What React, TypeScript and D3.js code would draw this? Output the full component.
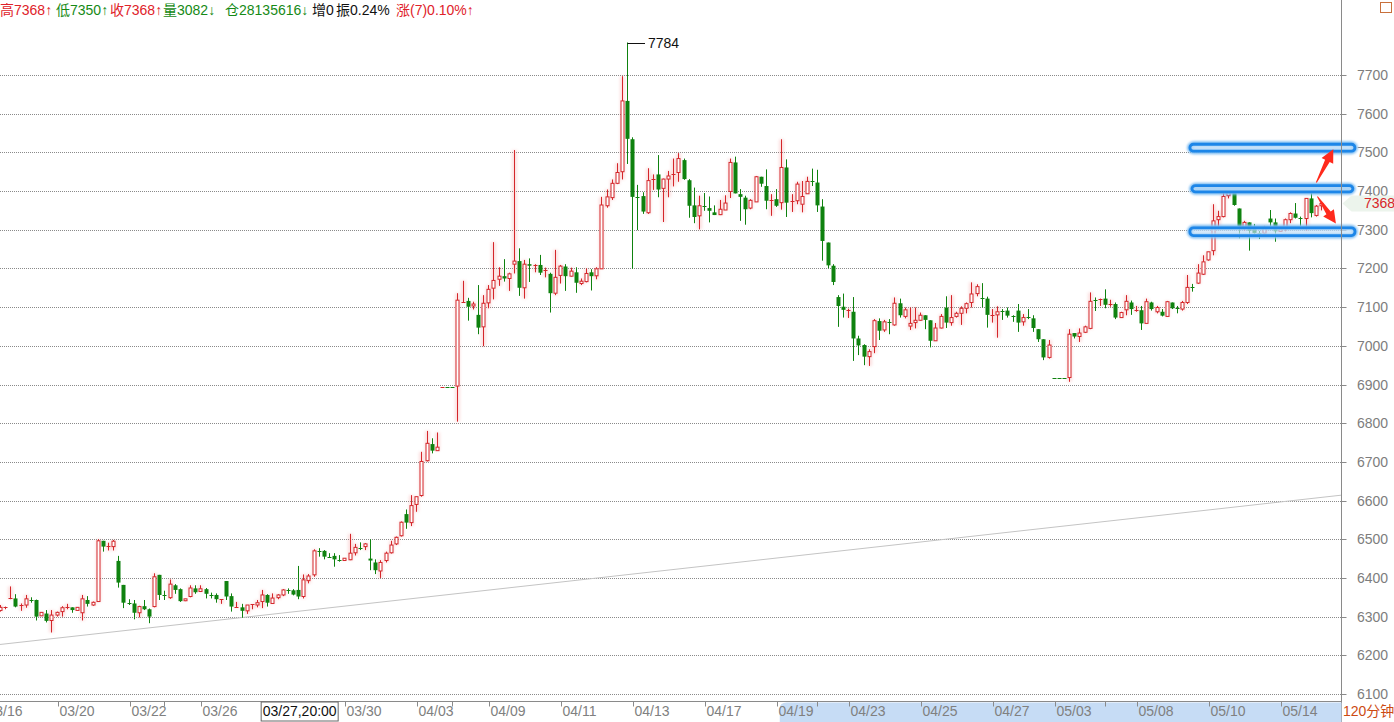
import React from "react";
import * as d3 from "d3";

// ---------- DATA ----------
const opens = [6316,6321,6345,6347,6326,6330,6344,6343,6302,6308,6290,6304,6313,6323,6324,6316,6310,6343,6330,6339,6496,6481,6481,6444,6382,6336,6334,6310,6327,6319,6326,6408,6356,6349,6381,6371,6341,6352,6373,6365,6371,6356,6356,6344,6392,6353,6323,6324,6315,6331,6330,6339,6356,6334,6349,6356,6368,6368,6369,6352,6393,6408,6470,6470,6455,6457,6447,6445,6447,6465,6477,6481,6450,6440,6418,6445,6465,6488,6509,6565,6543,6590,6613,6703,6746,6729,6893,6893,6893,6896,7113,7116,7103,7080,7049,7111,7149,7172,7180,7174,7211,7219,7150,7211,7207,7209,7194,7186,7136,7182,7205,7180,7190,7161,7166,7190,7181,7199,7362,7383,7420,7450,7633,7534,7385,7387,7344,7429,7443,7407,7431,7443,7448,7480,7428,7363,7336,7361,7356,7345,7339,7351,7399,7474,7392,7383,7356,7372,7437,7413,7375,7379,7370,7461,7372,7375,7366,7393,7426,7422,7360,7267,7207,7126,7101,7090,7088,7019,7002,6972,6998,7064,7041,7061,7054,7110,7076,7051,7060,7066,7079,7066,7013,7046,7099,7060,7076,7084,7097,7112,7135,7123,7122,7079,7080,7091,7091,7077,7091,7062,7074,7071,7043,7017,6970,6918,6918,6918,6918,7033,7024,7035,7045,7118,7119,7122,7107,7108,7073,7093,7112,7091,7092,7058,7112,7088,7088,7076,7112,7097,7095,7112,7152,7162,7185,7222,7246,7326,7334,7388,7398,7355,7304,7319,7302,7292,7291,7329,7319,7296,7302,7326,7342,7331,7329,7381,7337,7362];
const highs = [6330,6326,6378,6358,6334,6356,6350,6344,6311,6317,6317,6313,6327,6333,6324,6324,6356,6353,6339,6500,6496,6491,6498,6457,6382,6345,6343,6328,6343,6321,6412,6408,6367,6396,6384,6373,6346,6381,6381,6381,6374,6362,6360,6345,6392,6360,6338,6333,6330,6332,6343,6369,6358,6360,6358,6371,6373,6371,6431,6409,6410,6474,6477,6472,6464,6464,6459,6451,6514,6488,6492,6490,6500,6448,6446,6468,6496,6507,6546,6577,6614,6610,6726,6780,6761,6776,6893,6893,6893,7136,7168,7124,7114,7157,7131,7157,7268,7203,7224,7189,7506,7252,7222,7226,7211,7235,7202,7189,7248,7209,7211,7202,7203,7174,7200,7198,7203,7385,7404,7430,7472,7697,7784,7539,7416,7397,7459,7443,7493,7432,7452,7484,7498,7484,7431,7409,7388,7395,7386,7363,7377,7389,7484,7489,7405,7388,7379,7439,7437,7456,7392,7405,7534,7482,7392,7424,7426,7437,7458,7455,7379,7267,7211,7131,7135,7096,7126,7026,7004,6991,7069,7071,7067,7069,7125,7122,7099,7099,7099,7086,7079,7066,7059,7082,7128,7131,7088,7102,7112,7164,7159,7162,7127,7095,7102,7095,7099,7079,7108,7082,7095,7079,7043,7017,7015,6918,6918,6918,7043,7033,7045,7052,7138,7125,7122,7146,7119,7112,7088,7131,7117,7103,7103,7122,7114,7103,7095,7116,7112,7103,7116,7183,7160,7211,7234,7243,7366,7349,7399,7401,7401,7355,7323,7319,7315,7297,7310,7351,7329,7302,7329,7345,7369,7334,7381,7398,7364,7368];
const lows = [6313,6319,6345,6324,6315,6323,6336,6290,6302,6285,6259,6300,6300,6319,6310,6316,6290,6326,6328,6338,6468,6471,6471,6375,6322,6330,6293,6298,6317,6283,6324,6343,6343,6346,6359,6338,6340,6350,6359,6364,6347,6347,6336,6333,6343,6313,6323,6297,6307,6319,6324,6322,6326,6334,6345,6353,6359,6355,6345,6347,6386,6403,6455,6448,6452,6429,6442,6445,6446,6458,6472,6472,6420,6410,6400,6440,6463,6485,6507,6527,6534,6571,6610,6701,6722,6729,6893,6893,6893,6804,7113,7065,7094,7030,6999,7097,7120,7155,7166,7142,7187,7129,7122,7165,7190,7183,7177,7086,7131,7161,7142,7179,7137,7157,7164,7143,7172,7199,7357,7377,7418,7430,7470,7199,7299,7341,7341,7403,7384,7320,7384,7412,7424,7429,7331,7317,7301,7349,7319,7338,7338,7351,7382,7394,7323,7313,7353,7372,7411,7353,7336,7359,7352,7333,7346,7366,7345,7393,7413,7346,7220,7200,7157,7049,7073,7072,6961,6976,6950,6948,6981,7015,7036,7030,7052,7073,7071,7041,7045,7065,7043,6996,7013,7045,7046,7052,7073,7054,7084,7099,7128,7099,7047,7060,7021,7067,7073,7062,7036,7052,7069,7036,7010,6963,6967,6918,6918,6918,6907,7019,7010,7033,7043,7090,7103,7097,7101,7069,7072,7079,7080,7088,7041,7058,7091,7084,7076,7076,7095,7084,7091,7108,7140,7160,7183,7220,7234,7302,7332,7381,7362,7278,7297,7246,7289,7276,7286,7310,7269,7296,7296,7317,7329,7310,7297,7332,7334,7350];
const closes = [6324,6324,6347,6326,6329,6346,6343,6300,6311,6289,6304,6311,6323,6324,6317,6324,6346,6333,6337,6496,6481,6483,6495,6388,6336,6334,6310,6326,6319,6300,6403,6356,6354,6384,6369,6340,6346,6374,6363,6372,6359,6353,6345,6345,6352,6326,6324,6315,6330,6332,6336,6356,6336,6348,6356,6369,6367,6357,6352,6395,6405,6470,6468,6455,6454,6448,6446,6451,6464,6479,6476,6488,6445,6420,6440,6464,6485,6505,6544,6543,6587,6610,6701,6748,6729,6738,6893,6893,6893,7118,7114,7101,7108,7047,7110,7146,7169,7180,7174,7186,7219,7150,7211,7207,7209,7189,7196,7136,7177,7206,7180,7193,7163,7167,7187,7180,7199,7364,7385,7420,7448,7633,7535,7385,7382,7347,7427,7430,7404,7431,7439,7445,7484,7431,7362,7333,7362,7359,7349,7338,7353,7369,7474,7394,7385,7353,7376,7437,7419,7375,7377,7362,7461,7370,7374,7418,7386,7425,7424,7363,7271,7208,7165,7103,7093,7092,7019,7001,6972,6985,7065,7039,7062,7060,7110,7079,7093,7058,7066,7079,7067,7013,7046,7076,7060,7073,7084,7097,7109,7134,7153,7122,7080,7080,7088,7089,7078,7075,7060,7073,7073,7046,7017,6970,7002,6918,6918,6918,7030,7024,7033,7049,7115,7117,7120,7106,7108,7073,7086,7115,7095,7093,7058,7114,7095,7099,7078,7114,7097,7096,7112,7151,7150,7188,7217,7243,7323,7334,7386,7398,7364,7309,7319,7297,7291,7291,7306,7319,7296,7302,7326,7342,7331,7329,7381,7343,7361,7368];

const priceTicks = [6100,6200,6300,6400,6500,6600,6700,6800,6900,7000,7100,7200,7300,7400,7500,7600,7700];
const dateTickIdx = [-3,11,25,39,67,81,95,109,123,137,151,165,179,193,205,221,235,249];
const dateTickLabels = ["03/16","03/20","03/22","03/26","03/30","04/03","04/09","04/11","04/13","04/17","04/19","04/23","04/25","04/27","05/03","05/08","05/10","05/14"];
const minorTickIdx = [32,88,159,215];
const cursorLabel = "03/27,20:00";
const cursorIdx = 58.3;
const selectionStartIdx = 151.7;
const peakIdx = 122;
const peakValue = 7784;
const lastPrice = 7368;
const trendLine = [{ i: 0, v: 6228 }, { i: 261, v: 6614 }];
const boxes = [
  { i0: 231.5, i1: 263.6, top: 7521, bottom: 7503 },
  { i0: 231.9, i1: 263.2, top: 7414, bottom: 7398 },
  { i0: 231.5, i1: 263.6, top: 7305, bottom: 7285 },
];
const arrows = [
  { fromI: 256.1, fromV: 7422, toI: 259.4, toV: 7508 },
  { fromI: 256.3, fromV: 7386, toI: 259.9, toV: 7316 },
];
const headerParts = [
  { x: 0, t: "高7368↑", c: "red" },
  { x: 56, t: "低7350↑", c: "green" },
  { x: 110, t: "收7368↑", c: "red" },
  { x: 163, t: "量3082↓", c: "green" },
  { x: 225, t: "仓28135616↓", c: "green" },
  { x: 312, t: "增0", c: "black" },
  { x: 336, t: "振0.24%", c: "black" },
  { x: 396, t: "涨(7)0.10%↑", c: "red" },
];

// ---------- STYLE ----------
const W = 1394, H = 722;
const RED = "#d4262a", GREEN = "#0f820f";
const HDR: Record<string, string> = { red: "#e0222a", green: "#168a16", black: "#111" };
const FONT = "'Liberation Sans', Arial, 'Noto Sans CJK SC', sans-serif";
const axisX = 1341.5;
const plotBottom = 701.5;

export default function App() {
  const x = d3.scaleLinear().domain([0, 257]).range([0, 1321]);
  const y = d3.scaleLinear().domain([6100, 7700]).range([694, 75]);
  const candles = opens.map((o, i) => ({ i, o, h: highs[i], l: lows[i], c: closes[i] }));

  const colorOf = (d: any) => {
    if (d.c > d.o) return "red";
    if (d.c < d.o) return "green";
    const prev = d.i > 0 ? closes[d.i - 1] : d.c;
    return d.c > prev ? "red" : "green";
  };

  const arrowPath = (a: any) => {
    const x0 = x(a.fromI), y0 = y(a.fromV), x1 = x(a.toI), y1 = y(a.toV);
    const dx = x1 - x0, dy = y1 - y0;
    const len = Math.hypot(dx, dy);
    const ux = dx / len, uy = dy / len;
    const px = -uy, py = ux;
    const headL = 13, headW = 6.5, shaftW = 2.6;
    const bx = x1 - ux * headL, by = y1 - uy * headL;
    const pts = [
      [x0 + px * 0.5, y0 + py * 0.5],
      [bx + px * shaftW, by + py * shaftW],
      [bx + px * headW, by + py * headW],
      [x1, y1],
      [bx - px * headW, by - py * headW],
      [bx - px * shaftW, by - py * shaftW],
      [x0 - px * 0.5, y0 - py * 0.5],
    ];
    return "M" + pts.map((p) => p[0].toFixed(1) + "," + p[1].toFixed(1)).join("L") + "Z";
  };

  const px = (v: number) => Math.round(v) + 0.5;

  return (
    <svg
      width={W}
      height={H}
      style={{ position: "absolute", left: 0, top: 0, background: "#fff" }}
      fontFamily={FONT}
    >
      <defs>
        <filter id="glow" x="-50%" y="-50%" width="200%" height="200%">
          <feGaussianBlur stdDeviation="1.5" />
        </filter>
        <filter id="bglow" x="-10%" y="-100%" width="120%" height="300%">
          <feGaussianBlur stdDeviation="1.2" />
        </filter>
      </defs>
      <rect x={0} y={0} width={W} height={H} fill="#fff" />

      {/* grid */}
      {priceTicks.map((v) => (
        <g key={v}>
          <line x1={0} x2={axisX} y1={px(y(v))} y2={px(y(v))} stroke="#8a8a8a" strokeDasharray="1,1" />
          <line x1={axisX} x2={axisX + 5} y1={px(y(v))} y2={px(y(v))} stroke="#8a8a8a" />
          <text x={1357} y={y(v) + 5} fontSize={14} fill="#7d7d7d">{v}</text>
        </g>
      ))}

      {/* trend line */}
      <line
        x1={x(trendLine[0].i)} y1={y(trendLine[0].v)}
        x2={x(trendLine[1].i)} y2={y(trendLine[1].v)}
        stroke="#c4c4c4" strokeWidth={1}
      />

      {/* red glow */}
      <g filter="url(#glow)" opacity={0.22}>
        {candles.filter((d) => colorOf(d) === "red" && d.h - d.l > 8).map((d) => {
          const cx = Math.round(x(d.i));
          return (
            <rect key={d.i} x={cx - 2} y={y(d.h)} width={5} height={Math.max(1, y(d.l) - y(d.h))} fill="#f07070" />
          );
        })}
      </g>

      {/* candles */}
      {candles.map((d) => {
        const cx = Math.round(x(d.i));
        const col = colorOf(d) === "red" ? RED : GREEN;
        const top = y(Math.max(d.o, d.c));
        const bot = y(Math.min(d.o, d.c));
        const bh = bot - top;
        const up = d.c > d.o;
        return (
          <g key={d.i}>
            {d.h !== d.l && (
              <line x1={cx + 0.5} x2={cx + 0.5} y1={y(d.h)} y2={y(d.l)} stroke={col} strokeWidth={1} />
            )}
            {bh < 1.5 ? (
              <line x1={cx - 1.5} x2={cx + 2.5} y1={px(top)} y2={px(top)} stroke={col} strokeWidth={1} />
            ) : up ? (
              <rect x={cx - 1} y={top} width={3} height={bh} fill="#fff" stroke={col} strokeWidth={1} />
            ) : (
              <rect x={cx - 1.5} y={top} width={4} height={bh} fill={col} />
            )}
          </g>
        );
      })}

      {/* peak label */}
      <line x1={Math.round(x(peakIdx)) + 0.5} x2={645} y1={px(y(peakValue))} y2={px(y(peakValue))} stroke="#111" />
      <text x={648} y={y(peakValue) + 5} fontSize={14} fill="#111">{peakValue}</text>

      {/* boxes */}
      {boxes.map((b, k) => {
        const bx = x(b.i0), bw = x(b.i1) - x(b.i0);
        const by = y(b.top), bh = y(b.bottom) - y(b.top);
        return (
          <g key={k}>
            <rect x={bx} y={by} width={bw} height={bh} rx={4} fill="none" stroke="#7fbdf2" strokeWidth={6} filter="url(#bglow)" />
            <rect x={bx} y={by} width={bw} height={bh} rx={3.5} fill="#fff" fillOpacity={0.35} stroke="#1d86e8" strokeWidth={2.8} />
          </g>
        );
      })}

      {/* arrows */}
      {arrows.map((a, k) => (
        <path key={k} d={arrowPath(a)} fill="#ff2a1c" />
      ))}

      {/* axis lines */}
      <line x1={axisX} x2={axisX} y1={0} y2={H} stroke="#8a8a8a" />

      {/* bottom band */}
      <path
        d={`M${x(selectionStartIdx)},${H} L${x(selectionStartIdx)},${plotBottom + 7} Q${x(selectionStartIdx)},${plotBottom + 1} ${x(selectionStartIdx) + 7},${plotBottom + 1} L${axisX},${plotBottom + 1} L${axisX},${H} Z`}
        fill="#c6dcf5"
      />
      <line x1={0} x2={axisX} y1={plotBottom} y2={plotBottom} stroke="#8a8a8a" />
      {minorTickIdx.map((i) => (
        <line key={"m" + i} x1={Math.round(x(i)) + 0.5} x2={Math.round(x(i)) + 0.5} y1={plotBottom} y2={plotBottom + 5} stroke="#8a8a8a" />
      ))}
      {dateTickIdx.map((i, k) => {
        const tx = Math.round(x(i)) + 1.5;
        return (
          <g key={"t" + k}>
            <line x1={tx} x2={tx} y1={plotBottom} y2={plotBottom + 5} stroke="#8a8a8a" />
            <text x={tx + 1} y={716} fontSize={14} fill="#808080">{dateTickLabels[k]}</text>
          </g>
        );
      })}

      {/* cursor label */}
      <rect x={x(cursorIdx) - 38.5} y={plotBottom + 0.5} width={77} height={19} fill="#fff" stroke="#666" />
      <text x={x(cursorIdx)} y={716} fontSize={14} fill="#111" textAnchor="middle">{cursorLabel}</text>

      <text x={1343} y={716} fontSize={14} fill="#cc4a12">120分钟</text>

      {/* last price marker */}
      <path
        d={`M${axisX + 1},${y(lastPrice)} L${axisX + 10},${y(lastPrice) - 8} L${W},${y(lastPrice) - 8} L${W},${y(lastPrice) + 8} L${axisX + 10},${y(lastPrice) + 8} Z`}
        fill="#ecf4ec"
      />
      <text x={1364} y={y(lastPrice) + 5} fontSize={14} fill="#d8262a">{lastPrice}</text>

      {/* top right square */}
      <rect x={1380.5} y={2.5} width={11} height={10} fill="none" stroke="#c8703c" />

      {/* header */}
      {headerParts.map((p, k) => (
        <text key={k} x={p.x} y={15} fontSize={14} fill={HDR[p.c]}>{p.t}</text>
      ))}
    </svg>
  );
}
